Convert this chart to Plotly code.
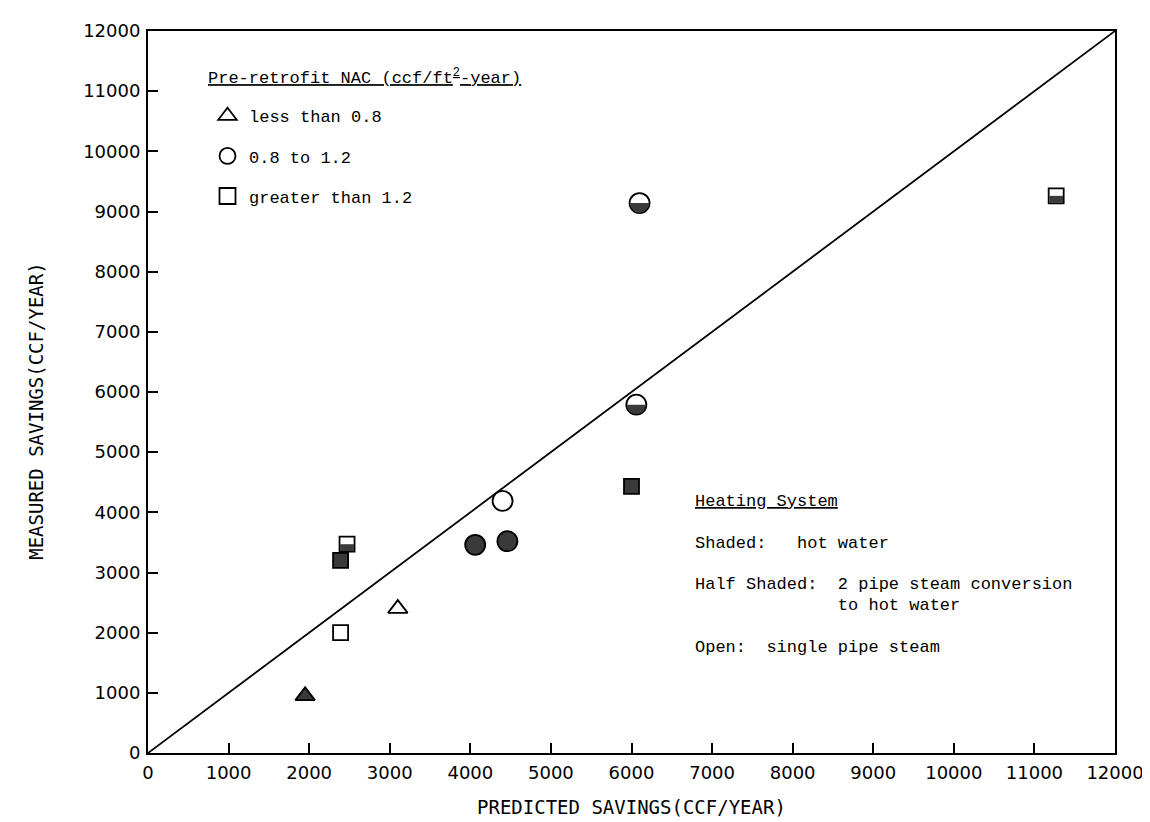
import math
import plotly.graph_objects as go

# ---------------- data ----------------
AXIS_MAX = 12000
tick_vals = list(range(0, 12001, 1000))
tick_text = [str(v) for v in tick_vals]

# Predicted (x) and measured (y) savings, ccf/year
# NAC groups: tri (<0.8), circ (0.8-1.2), sq (>1.2)
# heating: shaded (hot water), half (2 pipe steam conversion), open (single pipe steam)
tri_shaded_x = [1950]
tri_shaded_y = [950]
tri_open_x = [3100]
tri_open_y = [2400]

circ_shaded_x = [4060, 4460]
circ_shaded_y = [3460, 3520]
circ_half_x = [6060, 6100]
circ_half_y = [5790, 9140]
circ_open_x = [4400]
circ_open_y = [4190]

sq_shaded_x = [2390, 6000]
sq_shaded_y = [3200, 4430]
sq_half_x = [2470, 11270]
sq_half_y = [3470, 9260]
sq_open_x = [2390]
sq_open_y = [2000]

legend_labels = ["less than 0.8", "0.8 to 1.2", "greater than 1.2"]
legend_title = "Pre-retrofit NAC (ccf/ft<sup>2</sup>-year)"
x_title = "PREDICTED SAVINGS(CCF/YEAR)"
y_title = "MEASURED SAVINGS(CCF/YEAR)"

# ---------------- style ----------------
W, H = 1150, 822
ML, MR, MT, MB = 140, 43, 15, 77
PW, PH = W - ML - MR, H - MT - MB
MONO = "Liberation Mono, DejaVu Sans Mono, monospace"
TICKF = "DejaVu Sans, Liberation Sans, sans-serif"
TITLEF = "DejaVu Sans Mono, Liberation Mono, monospace"
DARK = "#3a3a3a"
SZ = {"circle": 20, "square": 15, "triangle-up": 17}


def py2paper(py):
    return (MT + PH - py) / PH


def px2paper(px):
    return (px - ML) / PW


fig = go.Figure()

# identity line
fig.add_trace(go.Scatter(x=[0, AXIS_MAX], y=[0, AXIS_MAX], mode="lines",
                         line=dict(color="black", width=1.8), showlegend=False,
                         hoverinfo="skip"))


def pts(xs, ys, sym, fill):
    fig.add_trace(go.Scatter(
        x=xs, y=ys, mode="markers", showlegend=False,
        marker=dict(symbol=sym, size=SZ[sym], color=fill,
                    line=dict(color="black", width=1.8))))


pts(tri_shaded_x, tri_shaded_y, "triangle-up", DARK)
pts(tri_open_x, tri_open_y, "triangle-up", "white")
pts(circ_shaded_x, circ_shaded_y, "circle", DARK)
pts(circ_half_x, circ_half_y, "circle", "white")
pts(circ_open_x, circ_open_y, "circle", "white")
pts(sq_shaded_x, sq_shaded_y, "square", DARK)
pts(sq_half_x, sq_half_y, "square", "white")
pts(sq_open_x, sq_open_y, "square", "white")

# half-shaded fills (lower half dark), anchored on the data points in pixel units
shapes = []
r = SZ["circle"] / 2 - 0.6
arc = [(r * math.cos(math.pi + math.pi * i / 24), r * math.sin(math.pi + math.pi * i / 24))
       for i in range(25)]
arc_path = "M " + " L ".join(f"{a:.2f},{b:.2f}" for a, b in arc) + " Z"
for x, y in zip(circ_half_x, circ_half_y):
    shapes.append(dict(type="path", xref="x", yref="y", xsizemode="pixel",
                       ysizemode="pixel", xanchor=x, yanchor=y, path=arc_path,
                       fillcolor=DARK, line=dict(width=0)))
s = SZ["square"] / 2 - 0.6
for x, y in zip(sq_half_x, sq_half_y):
    shapes.append(dict(type="rect", xref="x", yref="y", xsizemode="pixel",
                       ysizemode="pixel", xanchor=x, yanchor=y, x0=-s, x1=s,
                       y0=-s, y1=0, fillcolor=DARK, line=dict(width=0)))

# legend-only traces for NAC groups
for lab, sym, grp in zip(legend_labels, ["triangle-up", "circle", "square"], "abc"):
    fig.add_trace(go.Scatter(x=[None], y=[None], mode="markers", name=lab,
                             legendgroup=grp,
                             marker=dict(symbol=sym, size=16, color="white",
                                         line=dict(color="black", width=1.8))))

# annotations: legend title, heating system notes, axis titles
NB = "\u00a0"
annotations = [dict(text="<u>" + legend_title + "</u>", xref="paper", yref="paper",
                    x=px2paper(198), y=py2paper(62), xanchor="left", yanchor="middle",
                    showarrow=False, font=dict(family=MONO, size=17, color="black"))]
notes = [
    ("<u>Heating System</u>", 491),
    ("Shaded:" + NB * 3 + "hot water", 533),
    ("Half Shaded:" + NB * 2 + "2 pipe steam conversion", 575),
    (NB * 14 + "to hot water", 596),
    ("Open:" + NB * 2 + "single pipe steam", 638),
]
for txt, ypx in notes:
    annotations.append(dict(text=txt, xref="paper", yref="paper",
                            x=px2paper(685), y=py2paper(ypx), xanchor="left",
                            yanchor="middle", showarrow=False, align="left",
                            font=dict(family=MONO, size=17, color="black")))
annotations.append(dict(text=x_title, xref="paper", yref="paper", x=0.5,
                        y=py2paper(800), xanchor="center", yanchor="middle",
                        showarrow=False,
                        font=dict(family=TITLEF, size=19, color="black")))
annotations.append(dict(text=y_title, xref="paper", yref="paper", x=px2paper(28),
                        y=py2paper(400), xanchor="center", yanchor="middle",
                        textangle=-90, showarrow=False,
                        font=dict(family=TITLEF, size=19, color="black")))

axis_common = dict(range=[0, AXIS_MAX], tickmode="array", tickvals=tick_vals,
                   ticktext=tick_text,
                   ticks="inside", ticklen=10, tickwidth=1.5, tickcolor="black",
                   showline=True, linecolor="black", linewidth=2, mirror=True,
                   showgrid=False, zeroline=False, ticklabelstandoff=2,
                   tickfont=dict(family=TICKF, size=18, color="black"))

fig.update_layout(
    width=W, height=H,
    margin=dict(l=ML, r=MR, t=MT, b=MB),
    paper_bgcolor="white", plot_bgcolor="white",
    xaxis=dict(**axis_common),
    yaxis=dict(**axis_common),
    legend=dict(x=px2paper(198), y=py2paper(83), xanchor="left", yanchor="top",
                bgcolor="rgba(0,0,0,0)", tracegroupgap=15, itemwidth=33,
                font=dict(family=MONO, size=17, color="black")),
    shapes=shapes,
    annotations=annotations,
    showlegend=True,
)

fig.write_html("out.html")
